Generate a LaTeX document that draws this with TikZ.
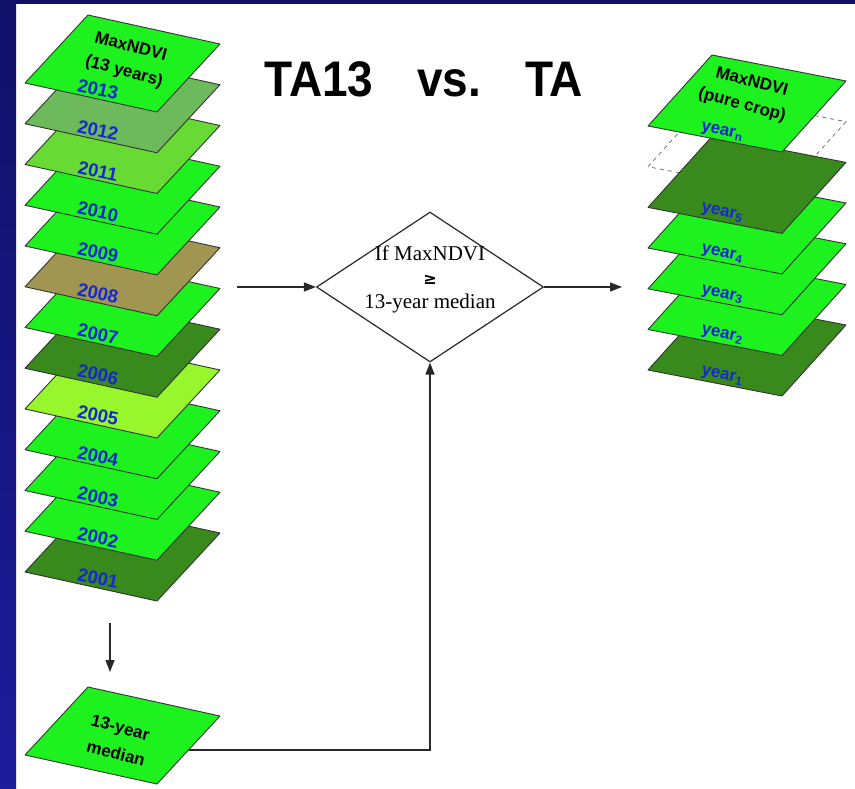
\documentclass[tikz,border=0pt]{standalone}
\usepackage{fontspec}
\setmainfont{Liberation Sans}
\newfontfamily\serifA{Liberation Serif}
\newfontfamily\symA{DejaVu Sans}
\usetikzlibrary{shapes.geometric,arrows.meta,calc}
\definecolor{frameTop}{RGB}{16,16,104}
\definecolor{frameBot}{RGB}{28,28,156}
\definecolor{gBright}{RGB}{30,242,30}
\definecolor{gGray}{RGB}{108,186,92}
\definecolor{gYel}{RGB}{104,218,52}
\definecolor{gOlive}{RGB}{160,150,82}
\definecolor{gDark}{RGB}{56,138,28}
\definecolor{gLime}{RGB}{152,246,44}
\definecolor{labBlue}{RGB}{22,40,208}
\definecolor{lineC}{RGB}{40,40,40}
\tikzset{
  layer/.style={draw=black!80, line width=0.9pt, line join=round},
  yearlab/.style={text=labBlue, font=\fontsize{17}{17}\selectfont\bfseries, rotate=-12, inner sep=0},
  digitlab/.style={yearlab, font=\fontsize{18.5}{18.5}\selectfont\bfseries},
  toplab/.style={text=black, font=\fontsize{17}{17}\selectfont\bfseries, rotate=-15, inner sep=0},
  conn/.style={draw=lineC, line width=1.3pt, -{Triangle[length=12pt,width=9pt]}},
  titletext/.style={font=\fontsize{50}{50}\selectfont\bfseries, anchor=base, inner sep=0},
}
\newcommand\layerL[3]{\path[layer,fill=#3] (#1,#2) -- ++(63,-68) -- ++(132,29) -- ++(-63,68) -- cycle;}
\newcommand\layerR[3]{\path[layer,fill=#3] (#1,#2) -- ++(64,-71) -- ++(134,26) -- ++(-64,71) -- cycle;}
\begin{document}
\begin{tikzpicture}[x=1pt,y=-1pt]
\useasboundingbox (0,0) rectangle (855,788);
\fill[white] (0,0) rectangle (855,788);
\shade[top color=frameTop, bottom color=frameBot] (0,0) rectangle (16,788);
\fill[frameTop] (0,0) rectangle (855,4);

% title
\node[titletext] (t1) at (319,96) {\scalebox{0.92}[1]{TA13}};
\node[titletext] (t2) at (449,96) {\scalebox{0.92}[1]{vs.}};
\node[titletext] (t3) at (554,96) {\scalebox{0.92}[1]{TA}};

% left stack
\foreach \y/\t/\c in {572/2001/gDark, 531.25/2002/gBright, 490.5/2003/gBright, 449.75/2004/gBright,
  409/2005/gLime, 368.25/2006/gDark, 327.5/2007/gBright, 286.75/2008/gOlive, 246/2009/gBright,
  205.25/2010/gBright, 164.5/2011/gYel, 123.75/2012/gGray, 83/2013/gBright}{
  \layerL{25}{\y}{\c}
  \node[digitlab] (l\t) at (98,\y+6.5) {\t};
}
\node[toplab] (lt1) at (131,46) {MaxNDVI};
\node[toplab] (lt2) at (124,72) {(13 years)};

% median layer
\layerL{25}{755}{gBright}
\coordinate (medB) at (157,784);
\coordinate (medR) at (220,716);
\coordinate (medE) at ($(medB)!0.5!(medR)$);
\node[toplab] (m1) at (120,729) {13-year};
\node[toplab] (m2) at (116,753) {median};

% right stack
\path[draw=black!55, line width=0.8pt, dash pattern=on 4pt off 4pt] (648,166.7) -- ++(64,-71) -- ++(134,26) -- ++(-64,71) -- cycle;
\foreach \y/\t/\c in {370/1/gDark, 329.5/2/gBright, 288.8/3/gBright, 248/4/gBright, 207.4/5/gDark}{
  \layerR{648}{\y}{\c}
  \node[yearlab] (r\t) at (722,\y+6) {year\textsubscript{\t}};
}
\layerR{648}{126}{gBright}
\node[yearlab] (rn) at (722,132) {year\textsubscript{n}};
\node[toplab] (rt1) at (752,81) {MaxNDVI};
\node[toplab] (rt2) at (742,105) {(pure crop)};

% decision
\node[diamond, draw=lineC, line width=1.2pt, minimum width=227pt, minimum height=150pt, inner sep=0] (dec) at (430,287) {};
\node[font=\serifA\fontsize{21}{24}\selectfont, align=center, inner sep=0] (dtext) at (430,279) {If MaxNDVI\\{\symA\bfseries\fontsize{16}{16}\selectfont ≥}\\13-year median};

% connectors
\coordinate (inL) at (237,287);
\coordinate (outR) at (622,287);
\coordinate (dnA) at (110,623);
\coordinate (dnB) at (110,672);
\draw[conn] (inL) -- (dec.west);
\draw[conn] (dec.east) -- (outR);
\draw[conn] (dnA) -- (dnB);
\draw[conn] (medE) -| (dec.south);
\end{tikzpicture}
\end{document}
